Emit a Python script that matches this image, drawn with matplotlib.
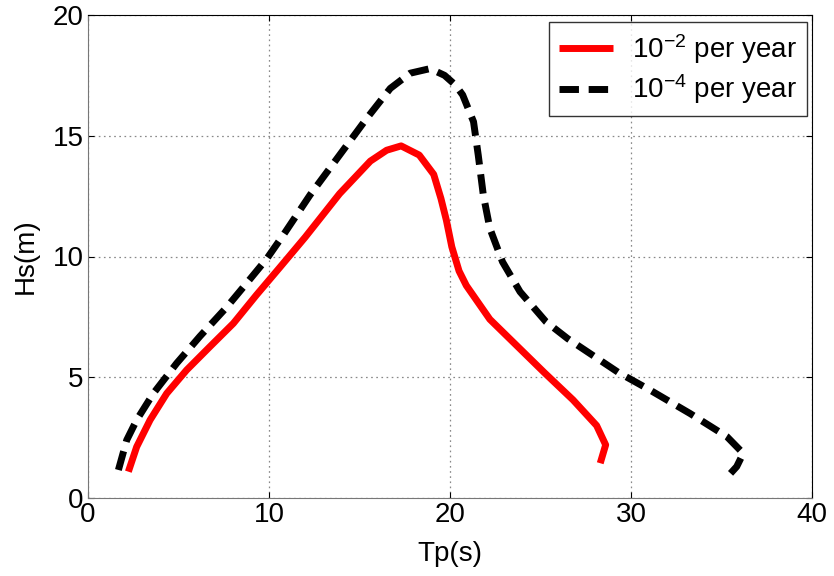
import numpy as np
import matplotlib
matplotlib.use('Agg')
import matplotlib.pyplot as plt

plt.rcParams['font.family'] = ['Liberation Sans', 'DejaVu Sans']
plt.rcParams['mathtext.fontset'] = 'custom'
plt.rcParams['mathtext.rm'] = 'Liberation Sans'
plt.rcParams['mathtext.it'] = 'Liberation Sans:italic'
plt.rcParams['lines.scale_dashes'] = False

# contour values: 1e-2 per year (red)
tp_2 = [2.23, 2.69, 3.43, 4.35, 5.45, 6.74, 8.03, 9.3, 10.6, 12.0, 13.9,
        15.6, 16.5, 17.3, 18.3, 19.1, 19.5, 19.8, 20.1, 20.5, 20.9, 22.2,
        23.7, 25.2, 26.8, 28.1, 28.6, 28.3]
hs_2 = [1.09, 2.12, 3.23, 4.33, 5.30, 6.27, 7.23, 8.4, 9.55, 10.8, 12.6,
        13.95, 14.4, 14.58, 14.2, 13.4, 12.4, 11.5, 10.4, 9.4, 8.8, 7.4,
        6.3, 5.2, 4.06, 3.0, 2.2, 1.44]

# 1e-4 per year (black dashed)
tp_4 = [1.68, 2.14, 2.69, 3.61, 4.9, 6.19, 7.66, 8.77, 9.87, 10.8, 12.27,
        13.9, 15.4, 16.7, 17.8, 18.9, 19.7, 20.3, 20.7, 21.3, 21.56, 21.84,
        22.2, 22.9, 23.87, 25.3, 26.5, 27.9, 29.3, 31.05, 33.26, 35.3, 36.2,
        35.84, 35.5]
hs_4 = [1.16, 2.40, 3.23, 4.33, 5.58, 6.7, 7.9, 8.9, 9.9, 10.9, 12.55,
        14.2, 15.72, 16.96, 17.59, 17.78, 17.5, 17.1, 16.69, 15.58, 14.2,
        12.55, 11.17, 9.78, 8.54, 7.3, 6.6, 5.9, 5.2, 4.47, 3.5, 2.54, 1.85,
        1.3, 1.02]

xticks = [0, 10, 20, 30, 40]
yticks = [0, 5, 10, 15, 20]

fig = plt.figure(figsize=(8.34, 5.76), dpi=100)
ax = fig.add_axes([88/834, 78/576, 724/834, 483/576])

ax.plot(tp_2, hs_2, color='red', lw=5, solid_capstyle='butt',
        solid_joinstyle='round', label=r'$\mathregular{10^{-2}}$ per year')
ax.plot(tp_4, hs_4, color='black', lw=5, dashes=(14, 7),
        dash_capstyle='butt', dash_joinstyle='round',
        label=r'$\mathregular{10^{-4}}$ per year')

ax.set_xlim(0, 40)
ax.set_ylim(0, 20)
ax.set_xticks(xticks)
ax.set_yticks(yticks)
ax.tick_params(direction='in', top=True, right=True, length=4,
               labelsize=20, pad=3)
ax.grid(True, linestyle=(0, (1.2, 2.5)), color='#888888', lw=0.9)
for s in ['left', 'bottom']:
    ax.spines[s].set_color('#777777')
for s in ['top', 'right']:
    ax.spines[s].set_color('black')

ax.set_xlabel('Tp(s)', fontsize=20, labelpad=9)
ax.set_ylabel('Hs(m)', fontsize=20, labelpad=10)

leg = ax.legend(loc='upper right', bbox_to_anchor=(0.993, 0.9855),
                borderaxespad=0, fontsize=20, fancybox=False,
                handlelength=1.95, handletextpad=0.7, labelspacing=0.25,
                borderpad=0.35)
leg.get_frame().set_edgecolor('black')
leg.get_frame().set_linewidth(1.0)

fig.savefig('out.png', dpi=100)
